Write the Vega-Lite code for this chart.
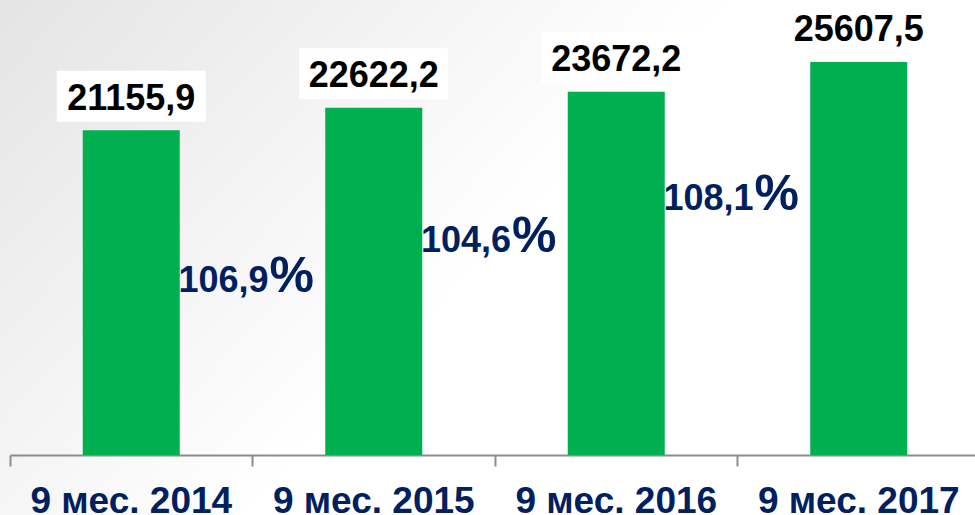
{
  "$schema": "https://vega.github.io/schema/vega-lite/v6.json",
  "width": 975,
  "height": 515,
  "autosize": {"type": "none"},
  "padding": 0,
  "background": "#ffffff",
  "config": {
    "font": "Liberation Sans",
    "view": {
      "stroke": null,
      "fill": {
        "gradient": "linear",
        "x1": 0, "y1": 0, "x2": 0.6, "y2": 0.3,
        "stops": [
          {"offset": 0, "color": "#e4e4e4"},
          {"offset": 1, "color": "#ffffff"}
        ]
      }
    }
  },
  "data": {
    "values": [
      {"period": "9 мес. 2014", "value": 21155.9, "label": "21155,9"},
      {"period": "9 мес. 2015", "value": 22622.2, "label": "22622,2"},
      {"period": "9 мес. 2016", "value": 23672.2, "label": "23672,2"},
      {"period": "9 мес. 2017", "value": 25607.5, "label": "25607,5"}
    ]
  },
  "encoding": {
    "x": {
      "field": "period",
      "type": "nominal",
      "scale": {"range": [10, 980], "paddingInner": 0, "paddingOuter": 0},
      "axis": {
        "title": null,
        "bandPosition": 0,
        "offset": -60,
        "domainColor": "#8c8c8c",
        "domainWidth": 2,
        "tickColor": "#8c8c8c",
        "tickWidth": 2,
        "tickSize": 11,
        "labelFont": "Liberation Sans",
        "labelFontSize": 37,
        "labelFontWeight": "bold",
        "labelColor": "#002060",
        "labelBaseline": "alphabetic",
        "labelPadding": 46,
        "labelAngle": 0,
        "labelLimit": 0,
        "labelOverlap": false
      }
    },
    "y": {
      "field": "value",
      "type": "quantitative",
      "scale": {"domain": [0, 29647], "range": [455, 0], "nice": false, "zero": true},
      "axis": null
    }
  },
  "layer": [
    {
      "mark": {"type": "bar", "color": "#00b050", "width": {"band": 0.4}}
    },
    {
      "mark": {
        "type": "point",
        "shape": "M-1,-0.342L1,-0.342L1,0.342L-1,0.342Z",
        "size": 22201,
        "filled": true,
        "color": "#ffffff",
        "opacity": 1,
        "strokeWidth": 0,
        "yOffset": -34
      }
    },
    {
      "mark": {
        "type": "text",
        "fontSize": 36,
        "fontWeight": "bold",
        "color": "#000000",
        "baseline": "alphabetic",
        "align": "center",
        "dy": -20.5
      },
      "encoding": {"text": {"field": "label"}}
    },
    {
      "data": {
        "values": [
          {"period": "9 мес. 2014", "pct": "106,9", "labelY": 10621},
          {"period": "9 мес. 2015", "pct": "104,6", "labelY": 13247},
          {"period": "9 мес. 2016", "pct": "108,1", "labelY": 15964}
        ]
      },
      "layer": [
        {
          "mark": {
            "type": "text",
            "fontSize": 36,
            "fontWeight": "bold",
            "color": "#002060",
            "baseline": "alphabetic",
            "align": "right",
            "dx": 16
          },
          "encoding": {
            "x": {"field": "period", "type": "nominal", "bandPosition": 1},
            "y": {"field": "labelY", "type": "quantitative"},
            "text": {"field": "pct"}
          }
        },
        {
          "mark": {
            "type": "text",
            "fontSize": 50,
            "fontWeight": "bold",
            "color": "#002060",
            "baseline": "alphabetic",
            "align": "left",
            "dx": 17
          },
          "encoding": {
            "x": {"field": "period", "type": "nominal", "bandPosition": 1},
            "y": {"field": "labelY", "type": "quantitative"},
            "text": {"value": "%"}
          }
        }
      ]
    }
  ]
}
